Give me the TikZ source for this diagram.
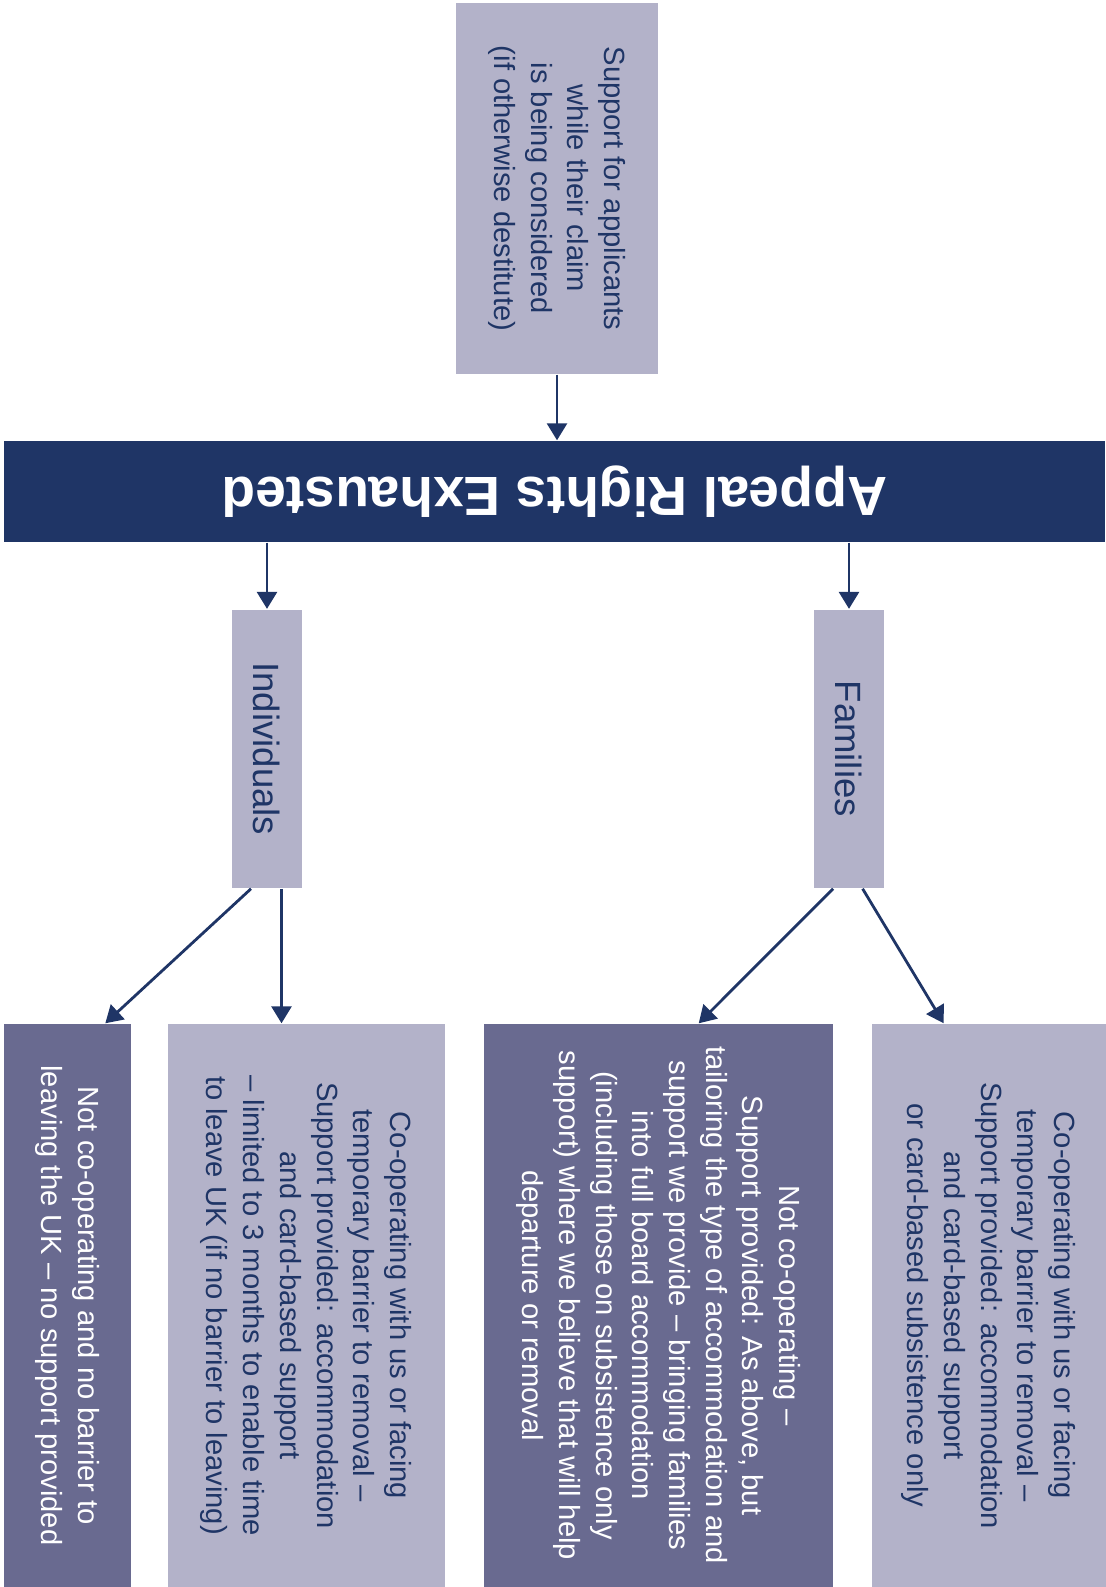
\documentclass[tikz,border=0pt]{standalone}
\usepackage{fontspec}
\setmainfont{Liberation Sans}
\usepackage{xcolor}
\usetikzlibrary{
		calc,
		positioning,
		arrows.meta
	}
\definecolor{navy}{RGB}{31,53,102}
\definecolor{lilac}{RGB}{179,178,201}
\definecolor{slate}{RGB}{105,106,144}
\tikzset{
		>={Triangle[length=1.7mm,width=2mm]},
		box/.style={rectangle, inner sep=0pt, align=center, rotate=-90,
			font=\fontsize{8.3}{10.45}\selectfont},
		lightbox/.style={box, fill=lilac, text=navy},
		darkbox/.style={box, fill=slate, text=white},
		groupbox/.style={lightbox, font=\fontsize{10.4}{12}\selectfont},
		banner/.style={rectangle, inner sep=0pt, rotate=180, fill=navy, text=white,
			font=\fontsize{15.7}{18}\selectfont\bfseries}
	}

\begin{document}
\begin{tikzpicture}[x=0.1mm, y=-0.1mm]
		\useasboundingbox (0,0) rectangle (1105,1587);
		% top of the tree
		\node[lightbox, minimum width=37.1mm, minimum height=20.2mm] (claim) at (557,188.5)
			{Support for applicants\\ while their claim\\ is being considered\\ (if otherwise destitute)};
		\node[banner, minimum width=110.1mm, minimum height=10.1mm] (exhausted) at (554.5,491.5)
			{Appeal Rights Exhausted};
		% the two groups
		\node[groupbox, minimum width=27.85mm, minimum height=6.97mm] (indiv) at (267,748.8) {Individuals};
		\node[groupbox, minimum width=27.85mm, minimum height=6.97mm] (fam) at (849,748.8) {Families};
		% outcomes
		\node[darkbox, minimum width=56.3mm, minimum height=12.66mm] (indivno) at (67.3,1305.5)
			{Not co-operating and no barrier to\\ leaving the UK – no support provided};
		\node[lightbox, minimum width=56.3mm, minimum height=27.65mm] (indivyes) at (306.3,1305.5)
			{Co-operating with us or facing\\ temporary barrier to removal –\\ Support provided: accommodation\\ and card-based support\\ – limited to 3 months to enable time\\ to leave UK (if no barrier to leaving)};
		\node[darkbox, minimum width=56.3mm, minimum height=34.9mm] (famno) at (658.7,1305.5)
			{Not co-operating –\\ Support provided: As above, but\\ tailoring the type of accommodation and\\ support we provide – bringing families\\ into full board accommodation\\ (including those on subsistence only\\ support) where we believe that will help\\ departure or removal};
		\node[lightbox, minimum width=56.3mm, minimum height=23.4mm] (famyes) at (988.7,1305.5)
			{Co-operating with us or facing\\ temporary barrier to removal –\\ Support provided: accommodation\\ and card-based support\\ or card-based subsistence only};
		\begin{scope}[line width=0.28mm, draw=navy, navy]
			\draw[->] (claim.east) -- (claim.east |- exhausted.south);
			\draw[->] (indiv.west |- exhausted.north) -- (indiv.west);
			\draw[->] (fam.west |- exhausted.north) -- (fam.west);
			\coordinate (indivl) at ($(indiv.east)+(-16,0)$);
			\coordinate (indivr) at ($(indiv.east)+(14.5,0)$);
			\coordinate (faml) at ($(fam.east)+(-16,0)$);
			\coordinate (famr) at ($(fam.east)+(13.6,0)$);
			\draw[->] (indivl) -- ($(indivno.west)+(38,0)$);
			\draw[->] (indivr) -- (indivr |- indivyes.west);
			\draw[->] (faml) -- ($(famno.west)+(40,0)$);
			\draw[->] (famr) -- ($(famyes.west)+(-45,0)$);
		\end{scope}
	\end{tikzpicture}
\end{document}
